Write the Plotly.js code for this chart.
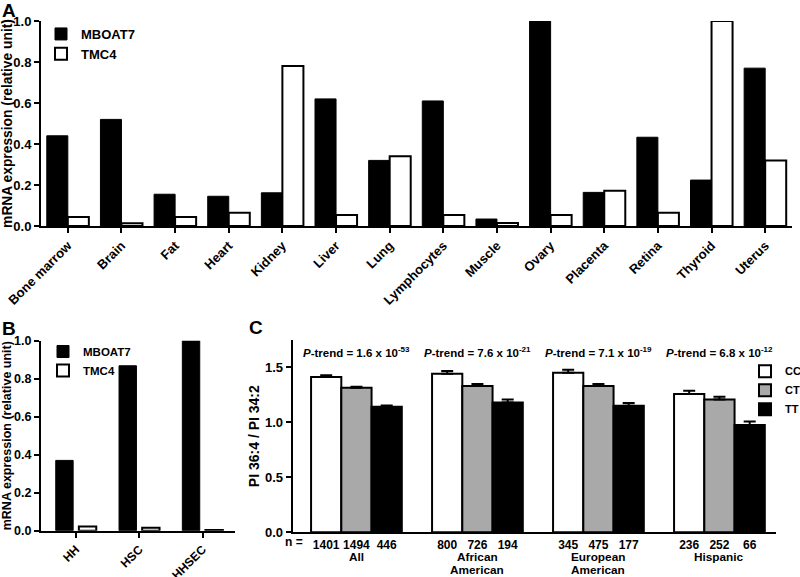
<!DOCTYPE html>
<html>
<head>
<meta charset="utf-8">
<script src="https://cdn.plot.ly/plotly-3.0.1.min.js"></script>
<style>html,body{margin:0;padding:0;background:#fff;}#chart{width:800px;height:577px;}</style>
</head>
<body>
<div id="chart"></div>
<script>
// ---------- Panel A data ----------
const tissues = ['Bone marrow','Brain','Fat','Heart','Kidney','Liver','Lung','Lymphocytes','Muscle','Ovary','Placenta','Retina','Thyroid','Uterus'];
const tissueMBOAT7 = [0.44, 0.52, 0.155, 0.145, 0.162, 0.62, 0.32, 0.61, 0.034, 1.0, 0.164, 0.433, 0.224, 0.77];
const tissueTMC4   = [0.044, 0.014, 0.044, 0.065, 0.78, 0.054, 0.34, 0.054, 0.015, 0.054, 0.172, 0.065, 1.0, 0.32];

// ---------- Panel B data ----------
const cells = ['HH','HSC','HHSEC'];
const cellMBOAT7 = [0.37, 0.868, 1.0];
const cellTMC4   = [0.022, 0.016, 0.004];

// ---------- Panel C data ----------
const groupLine1 = ['All','African','European','Hispanic'];
const groupLine2 = ['','American','American',''];
const ccMean = [1.409, 1.439, 1.448, 1.255];
const ccErr  = [0.015, 0.025, 0.027, 0.030];
const ctMean = [1.312, 1.327, 1.327, 1.206];
const ctErr  = [0.008, 0.018, 0.018, 0.024];
const ttMean = [1.139, 1.178, 1.148, 0.973];
const ttErr  = [0.011, 0.027, 0.025, 0.032];
const nCC = [1401, 800, 345, 236];
const nCT = [1494, 726, 475, 252];
const nTT = [446, 194, 177, 66];
const pMantissa = ['1.6','7.6','7.1','6.8'];
const pExponent = [-53, -21, -19, -12];
const yTicksC = [0, 0.5, 1.0, 1.5];

// ---------- helpers ----------
const FAM = 'Liberation Sans, Arial, Helvetica, sans-serif';
const W = 800, H = 577;
const px = v => v / W;
const py = v => 1 - v / H;
const bold = (s) => ({family: FAM, size: s, color: '#000', weight: 'bold'});

const slot = 4; // bars per group slot in panel C (3 bars + 1 gap)
const cX = (k) => groupLine1.map((_, i) => i * slot + k);
const zeros = groupLine1.map(() => 0);

const traces = [
  // Panel A
  {type:'bar', x: tissues, y: tissueMBOAT7, name:'MBOAT7', xaxis:'x', yaxis:'y',
   offset:-0.392, width:0.392, marker:{color:'#000', line:{color:'#000', width:1}}, legend:'legend'},
  {type:'bar', x: tissues, y: tissueTMC4, name:'TMC4', xaxis:'x', yaxis:'y',
   offset:0, width:0.392, marker:{color:'#fff', line:{color:'#000', width:2}}, legend:'legend'},
  // Panel B
  {type:'bar', x: cells, y: cellMBOAT7, name:'MBOAT7', xaxis:'x2', yaxis:'y2',
   offset:-0.32, width:0.275, marker:{color:'#000', line:{color:'#000', width:1}}, legend:'legend2'},
  {type:'bar', x: cells, y: cellTMC4, name:'TMC4', xaxis:'x2', yaxis:'y2',
   offset:0.045, width:0.275, marker:{color:'#fff', line:{color:'#000', width:2}}, legend:'legend2'},
  // Panel C
  {type:'bar', x: cX(0), y: ccMean, name:'CC', xaxis:'x3', yaxis:'y3', width:1,
   marker:{color:'#fff', line:{color:'#000', width:2}}, legend:'legend3',
   error_y:{type:'data', symmetric:false, array: ccErr, arrayminus: zeros, color:'#000', thickness:2, width:6}},
  {type:'bar', x: cX(1), y: ctMean, name:'CT', xaxis:'x3', yaxis:'y3', width:1,
   marker:{color:'#a9a9a9', line:{color:'#000', width:2}}, legend:'legend3',
   error_y:{type:'data', symmetric:false, array: ctErr, arrayminus: zeros, color:'#000', thickness:2, width:6}},
  {type:'bar', x: cX(2), y: ttMean, name:'TT', xaxis:'x3', yaxis:'y3', width:1,
   marker:{color:'#000', line:{color:'#000', width:2}}, legend:'legend3',
   error_y:{type:'data', symmetric:false, array: ttErr, arrayminus: zeros, color:'#000', thickness:2, width:6}}
];

const axBase = {
  showline:true, linewidth:2, linecolor:'#000', showgrid:false, zeroline:false,
  ticks:'outside', ticklen:5, tickwidth:2, tickcolor:'#000', fixedrange:true
};

// n-values as x tick labels of panel C
const nTickVals = [], nTickText = [];
groupLine1.forEach((_, i) => {
  nTickVals.push(i*slot, i*slot+1, i*slot+2);
  nTickText.push(String(nCC[i]), String(nCT[i]), String(nTT[i]));
});

const annotations = [
  {text:'A', xref:'paper', yref:'paper', x:px(0), y:py(10.5), xanchor:'left', yanchor:'middle', showarrow:false, font:bold(19)},
  {text:'B', xref:'paper', yref:'paper', x:px(0), y:py(328), xanchor:'left', yanchor:'middle', showarrow:false, font:bold(19)},
  {text:'C', xref:'paper', yref:'paper', x:px(247), y:py(327), xanchor:'left', yanchor:'middle', showarrow:false, font:bold(19)},
  {text:'n =', xref:'x3', yref:'paper', x:-1.06, y:py(541.5), xanchor:'center', yanchor:'middle', showarrow:false, font:bold(12)}
];
groupLine1.forEach((g, i) => {
  annotations.push({text:'<i>P</i>-trend = ' + pMantissa[i] + ' x 10<sup>' + pExponent[i] + '</sup>',
    xref:'x3', yref:'y3', x:i*slot+1, y:1.635, xanchor:'center', yanchor:'middle', showarrow:false, font:bold(11.5)});
  annotations.push({text:g, xref:'x3', yref:'paper', x:i*slot+1, y:py(557), xanchor:'center', yanchor:'middle', showarrow:false, font:bold(11.8)});
  if (groupLine2[i]) annotations.push({text:groupLine2[i], xref:'x3', yref:'paper', x:i*slot+1, y:py(570), xanchor:'center', yanchor:'middle', showarrow:false, font:bold(11.8)});
});

const layout = {
  width:W, height:H,
  margin:{l:0, r:0, t:0, b:0, autoexpand:false},
  paper_bgcolor:'#fff', plot_bgcolor:'rgba(0,0,0,0)',
  font: bold(13),
  barmode:'overlay',
  showlegend:true,
  xaxis: Object.assign({}, axBase, {domain:[px(41), px(792)], anchor:'y', type:'category', range:[-0.5, 13.5],
    tickangle:-45, tickfont:bold(13)}),
  yaxis: Object.assign({}, axBase, {domain:[py(226), py(21)], anchor:'x', range:[0,1], dtick:0.2, tickformat:'.1f',
    tickfont:bold(13), title:{text:'mRNA expression (relative unit)', font:bold(13.8), standoff:2}}),
  xaxis2: Object.assign({}, axBase, {domain:[px(41), px(235)], anchor:'y2', type:'category', range:[-0.553, 2.512],
    tickangle:-45, tickfont:bold(12)}),
  yaxis2: Object.assign({}, axBase, {domain:[py(530.7), py(340.7)], anchor:'x2', range:[0,1], dtick:0.2, tickformat:'.1f',
    tickfont:bold(12.5), title:{text:'mRNA expression (relative unit)', font:bold(12.5), standoff:2}}),
  xaxis3: Object.assign({}, axBase, {domain:[px(292.7), px(775.7)], anchor:'y3', range:[-1.107, 14.86],
    ticks:'', tickvals:nTickVals, ticktext:nTickText, tickfont:bold(12)}),
  yaxis3: Object.assign({}, axBase, {domain:[py(532.3), py(340)], anchor:'x3', range:[0,1.745],
    tickvals:yTicksC, tickformat:'.1f', tickfont:bold(13),
    title:{text:'PI 36:4 / PI 34:2', font:bold(14), standoff:2}}),
  legend: {x:px(41), y:py(19), xanchor:'left', yanchor:'top', bgcolor:'rgba(0,0,0,0)', font:bold(13), traceorder:'normal'},
  legend2:{x:px(43), y:py(337), xanchor:'left', yanchor:'top', bgcolor:'rgba(0,0,0,0)', font:bold(11.5), traceorder:'normal'},
  legend3:{x:px(745), y:py(356.7), xanchor:'left', yanchor:'top', bgcolor:'rgba(0,0,0,0)', font:bold(11), traceorder:'normal'},
  annotations: annotations
};

Plotly.newPlot('chart', traces, layout, {staticPlot:true, displayModeBar:false});
</script>
</body>
</html>
